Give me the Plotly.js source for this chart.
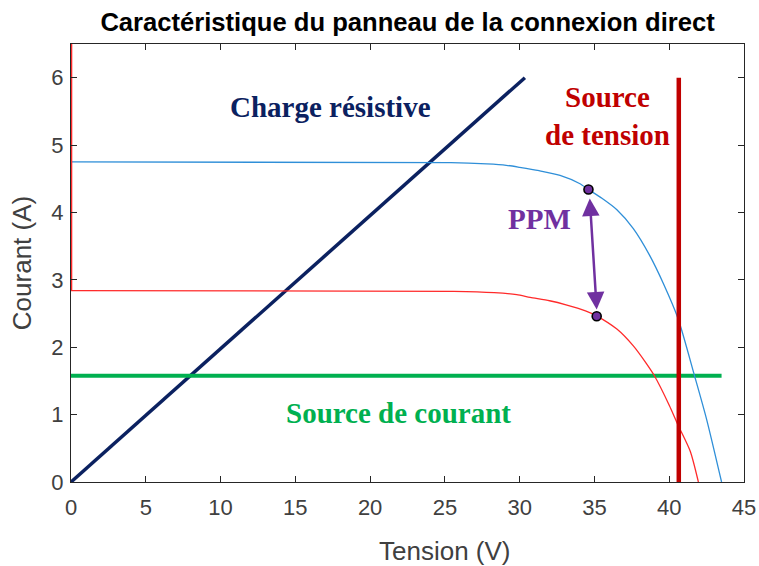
<!DOCTYPE html>
<html>
<head>
<meta charset="utf-8">
<script src="https://cdn.plot.ly/plotly-3.0.1.min.js"></script>
<style>html,body{margin:0;padding:0;background:#fff;}#chart{width:759px;height:566px;}</style>
</head>
<body>
<div id="chart"></div>
<script>
// Panel curve, full irradiance (blue)
const blueV = [0, 25.4, 27.8, 29.1, 30.0, 31.3, 32.7, 34.0, 34.6, 35.5, 36.5, 37.6, 38.7, 39.6, 40.6, 41.7, 42.5, 43.5];
const blueI = [4.75, 4.74, 4.72, 4.70, 4.67, 4.62, 4.55, 4.43, 4.34, 4.21, 4.04, 3.76, 3.36, 2.95, 2.42, 1.57, 0.93, 0.0];
// Panel curve, reduced irradiance (red)
const redV = [0, 25.6, 28.3, 29.8, 30.7, 32.0, 33.1, 34.4, 35.1, 36.5, 37.6, 38.5, 39.0, 40.0, 40.6, 41.4, 41.95];
const redI = [2.84, 2.83, 2.81, 2.78, 2.74, 2.69, 2.63, 2.54, 2.47, 2.27, 2.02, 1.75, 1.58, 1.14, 0.84, 0.46, 0.0];
// Red curve's vertical part along the current axis
const redEdgeV = [0, 0];
const redEdgeI = [2.84, 7];
// Resistive load line
const loadV = [0, 30.35];
const loadI = [0, 6.0];
// Current source
const currV = [0, 43.5];
const currI = [1.575, 1.575];
// Voltage source
const voltV = [40.64, 40.64];
const voltI = [0, 6.0];
// Maximum power points
const ppmV = [34.6, 35.15];
const ppmI = [4.34, 2.46];
// Axis ticks
const xTicks = [0, 5, 10, 15, 20, 25, 30, 35, 40, 45];
const yTicks = [0, 1, 2, 3, 4, 5, 6];

const traces = [
  {x: loadV, y: loadI, mode: 'lines', line: {color: '#0b2160', width: 3.5}, hoverinfo: 'skip'},
  {x: currV, y: currI, mode: 'lines', line: {color: '#00b050', width: 4}, hoverinfo: 'skip'},
  {x: blueV, y: blueI, mode: 'lines', line: {color: '#2f8fd8', width: 1.3, shape: 'spline', smoothing: 0.7}, hoverinfo: 'skip'},
  {x: redV, y: redI, mode: 'lines', line: {color: '#ff2a2a', width: 1.3, shape: 'spline', smoothing: 0.7}, hoverinfo: 'skip'},
  {x: redEdgeV, y: redEdgeI, mode: 'lines', line: {color: '#ff2a2a', width: 2.6}, hoverinfo: 'skip'},
  {x: voltV, y: voltI, mode: 'lines', line: {color: '#c00000', width: 4.5}, hoverinfo: 'skip'},
  {x: ppmV, y: ppmI, mode: 'markers', marker: {color: '#7030a0', size: 9, line: {color: '#000', width: 1.6}}, hoverinfo: 'skip'}
];

const sans = 'Liberation Sans, Arial, Helvetica, sans-serif';
const serifBold = (color, size) => ({family: 'Liberation Serif, Times New Roman, serif', size: size, color: color, weight: 'bold'});

const layout = {
  width: 759, height: 566,
  margin: {l: 71, r: 15, t: 44, b: 84},
  paper_bgcolor: '#ffffff', plot_bgcolor: '#ffffff',
  showlegend: false,
  title: {text: '<b>Caractéristique du panneau de la connexion direct</b>', x: 0.537, xanchor: 'center', y: 0.961, yanchor: 'middle',
          font: {family: sans, size: 25.6, color: '#000'}},
  xaxis: {range: [0, 45], tickvals: xTicks, ticktext: xTicks.map(String), ticks: 'inside', ticklen: 6, tickcolor: '#262626',
          showline: true, linecolor: '#262626', linewidth: 1, mirror: 'ticks', showgrid: false, zeroline: false,
          ticklabelstandoff: 6,
          tickfont: {family: sans, size: 22, color: '#404040'}},
  yaxis: {range: [0, 6.5], tickvals: yTicks, ticktext: yTicks.map(String), ticks: 'inside', ticklen: 6, tickcolor: '#262626',
          showline: true, linecolor: '#262626', linewidth: 1, mirror: 'ticks', showgrid: false, zeroline: false,
          ticklabelstandoff: 2,
          tickfont: {family: sans, size: 22, color: '#404040'},
          title: {text: 'Courant (A)', font: {family: sans, size: 26, color: '#404040'}, standoff: 12}},
  annotations: [
    {x: 0.5557, y: -0.1575, xref: 'paper', yref: 'paper', text: 'Tension (V)', showarrow: false, xanchor: 'center', yanchor: 'middle',
     font: {family: sans, size: 26, color: '#404040'}},
    {x: 17.38, y: 5.57, xref: 'x', yref: 'y', text: 'Charge résistive', showarrow: false, font: serifBold('#0b2160', 29)},
    {x: 35.86, y: 5.43, xref: 'x', yref: 'y', text: 'Source<br>de tension', showarrow: false, font: serifBold('#c00000', 29), align: 'center'},
    {x: 31.35, y: 3.91, xref: 'x', yref: 'y', text: 'PPM', showarrow: false, font: serifBold('#7030a0', 29)},
    {x: 21.93, y: 1.025, xref: 'x', yref: 'y', text: 'Source de courant', showarrow: false, font: serifBold('#00b050', 29)},
    {x: 35.15, y: 2.56, ax: 34.68, ay: 4.23, xref: 'x', yref: 'y', axref: 'x', ayref: 'y', text: '', showarrow: true,
     arrowhead: 2, startarrowhead: 2, arrowside: 'end+start', arrowsize: 1.4, startarrowsize: 1.4, arrowwidth: 2.5, arrowcolor: '#7030a0'}
  ]
};

Plotly.newPlot('chart', traces, layout, {staticPlot: true, displayModeBar: false});
</script>
</body>
</html>
